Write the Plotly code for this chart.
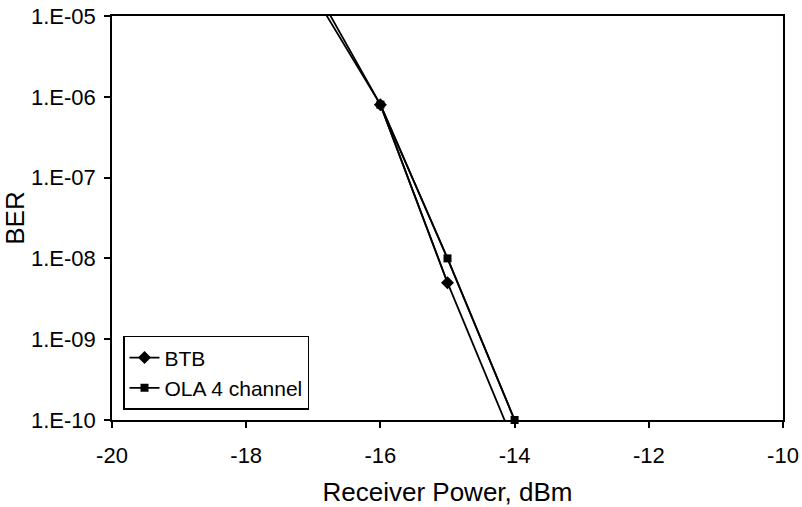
import plotly.graph_objects as go

# Data
rx_power = [-17, -16, -15, -14]
btb_ber = [1.9e-5, 8.0e-7, 5.0e-9, 5.0e-11]
ola_ber = [2.4e-5, 8.0e-7, 1.0e-8, 1.0e-10]

y_tickvals = [1e-10, 1e-9, 1e-8, 1e-7, 1e-6, 1e-5]
y_ticktext = ["1.E-10", "1.E-09", "1.E-08", "1.E-07", "1.E-06", "1.E-05"]
x_tickvals = [-20, -18, -16, -14, -12, -10]
x_ticktext = ["-20", "-18", "-16", "-14", "-12", "-10"]

Y_MIN, Y_MAX = 1e-10, 1e-5

FONT = "Liberation Sans, Arial, Helvetica, sans-serif"
fig = go.Figure()

series = [
    ("BTB", btb_ber, "diamond", 10),
    ("OLA 4 channel", ola_ber, "square", 8),
]
for name, ys, sym, msize in series:
    # full line (clipped by the axes)
    fig.add_trace(go.Scatter(x=rx_power, y=ys, mode="lines",
                             line=dict(color="black", width=1.8),
                             showlegend=False, hoverinfo="skip"))
    # points visible within the axis range
    vis = [(x, y) for x, y in zip(rx_power, ys) if Y_MIN * 0.999 <= y <= Y_MAX]
    fig.add_trace(go.Scatter(x=[p[0] for p in vis], y=[p[1] for p in vis],
                             mode="lines+markers", name=name,
                             line=dict(color="black", width=1.8),
                             marker=dict(symbol=sym, size=msize, color="black"),
                             cliponaxis=False))

fig.update_layout(
    width=802, height=507,
    margin=dict(l=112, r=19, t=16, b=87),
    paper_bgcolor="white", plot_bgcolor="white",
    font=dict(family=FONT, size=22, color="black"),
    showlegend=True,
    legend=dict(x=0.0164, y=0.025, xanchor="left", yanchor="bottom",
                bordercolor="black", borderwidth=1.5, bgcolor="white",
                font=dict(size=21), itemwidth=30, tracegroupgap=0),
    xaxis=dict(range=[-20, -10], tickvals=x_tickvals, ticktext=x_ticktext,
               showgrid=False, automargin=False,
               zeroline=False, showline=True, linecolor="black", linewidth=1.5,
               mirror=True, ticks="outside", ticklen=6, tickcolor="black",
               tickwidth=1.5, ticklabelstandoff=9,
               title=dict(text="Receiver Power, dBm", standoff=20)),
    yaxis=dict(type="log", range=[-10, -5], tickvals=y_tickvals,
               ticktext=y_ticktext, showgrid=False, zeroline=False,
               automargin=False,
               showline=True, linecolor="black", linewidth=1.5, mirror=True,
               ticks="outside", ticklen=6, tickcolor="black", tickwidth=1.5,
               ticklabelstandoff=4,
               title=dict(text="BER", standoff=0)),
)

fig.write_html("out.html")
